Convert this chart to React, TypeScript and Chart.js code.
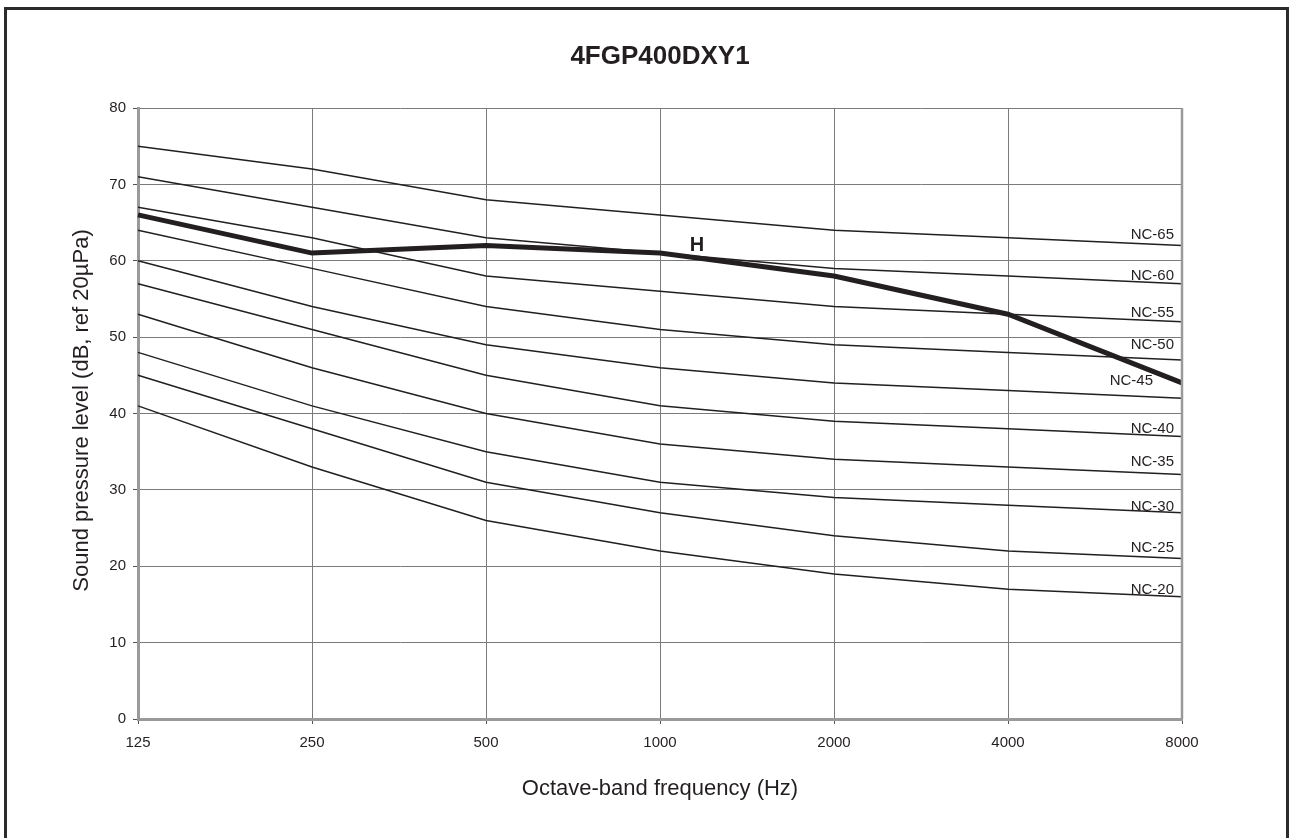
import React, { useEffect, useRef } from "react";
import { Chart, registerables } from "chart.js";

Chart.register(...registerables);

const frequencies = ["125", "250", "500", "1000", "2000", "4000", "8000"];

const ncNames = ["NC-65", "NC-60", "NC-55", "NC-50", "NC-45", "NC-40", "NC-35", "NC-30", "NC-25", "NC-20"];
const nc65 = [75, 72, 68, 66, 64, 63, 62];
const nc60 = [71, 67, 63, 61, 59, 58, 57];
const nc55 = [67, 63, 58, 56, 54, 53, 52];
const nc50 = [64, 59, 54, 51, 49, 48, 47];
const nc45 = [60, 54, 49, 46, 44, 43, 42];
const nc40 = [57, 51, 45, 41, 39, 38, 37];
const nc35 = [53, 46, 40, 36, 34, 33, 32];
const nc30 = [48, 41, 35, 31, 29, 28, 27];
const nc25 = [45, 38, 31, 27, 24, 22, 21];
const nc20 = [41, 33, 26, 22, 19, 17, 16];
const ncCurves = [nc65, nc60, nc55, nc50, nc45, nc40, nc35, nc30, nc25, nc20];

const unitName = "H";
const unitValues = [66, 61, 62, 61, 58, 53, 44];

const chartTitle = "4FGP400DXY1";
const yTitle = "Sound pressure level (dB, ref 20µPa)";
const xTitle = "Octave-band frequency (Hz)";

// label styling (pixel offsets above each curve's end)
const labelLift = [6, 4, 5, 11, 13, 3, 9, 2, 7, 3];
const labelRightInset = [8, 8, 8, 8, 29, 8, 8, 8, 8, 8];

const FONT = "'Liberation Sans', Arial, sans-serif";
const INK = "#231f20";

export default function App() {
  const ref = useRef<HTMLCanvasElement | null>(null);

  useEffect(() => {
    const canvas = ref.current;
    if (!canvas) return;

    const overlay = {
      id: "overlay",
      afterDraw(chart: any) {
        const { ctx, chartArea, scales } = chart;
        const xs = scales.x;
        const ys = scales.y;
        ctx.save();
        // right plot border
        ctx.strokeStyle = "#9a9a9a";
        ctx.lineWidth = 2.5;
        ctx.beginPath();
        ctx.moveTo(chartArea.right, chartArea.top);
        ctx.lineTo(chartArea.right, chartArea.bottom);
        ctx.stroke();

        const cx = (chartArea.left + chartArea.right) / 2;
        // title
        ctx.fillStyle = INK;
        ctx.font = `bold 26px ${FONT}`;
        ctx.textAlign = "center";
        ctx.textBaseline = "middle";
        ctx.fillText(chartTitle, cx, 57);

        // x title
        ctx.font = `22px ${FONT}`;
        ctx.fillText(xTitle, cx, 789);

        // y title
        ctx.save();
        ctx.translate(82, (chartArea.top + chartArea.bottom) / 2 - 3);
        ctx.rotate(-Math.PI / 2);
        ctx.fillText(yTitle, 0, 0);
        ctx.restore();

        // NC labels
        ctx.font = `15px ${FONT}`;
        ctx.textAlign = "right";
        ctx.textBaseline = "alphabetic";
        const last = frequencies.length - 1;
        ncNames.forEach((name, i) => {
          const y = ys.getPixelForValue(ncCurves[i][last]) - labelLift[i];
          ctx.fillText(name, chartArea.right - labelRightInset[i], y);
        });

        // unit label
        ctx.font = `bold 20px ${FONT}`;
        ctx.textAlign = "center";
        ctx.fillText(unitName, xs.getPixelForValue(3) + 37, ys.getPixelForValue(unitValues[3]) - 2);
        ctx.restore();
      },
    };

    const datasets: any[] = [
      {
        label: unitName,
        data: unitValues,
        borderColor: INK,
        borderWidth: 5,
        pointRadius: 0,
        tension: 0,
      },
      ...ncCurves.map((vals, i) => ({
        label: ncNames[i],
        data: vals,
        borderColor: INK,
        borderWidth: 1.5,
        pointRadius: 0,
        tension: 0,
      })),
    ];

    const chart = new Chart(canvas, {
      type: "line",
      data: { labels: frequencies, datasets },
      options: {
        responsive: false,
        animation: false,
        devicePixelRatio: 1,
        layout: { padding: { left: 0, top: 108, right: 108, bottom: 0 } },
        plugins: { legend: { display: false }, tooltip: { enabled: false } },
        scales: {
          x: {
            type: "category",
            offset: false,
            afterFit: (s: any) => {
              s.height = 119;
            },
            grid: { color: "#7a7a7a", lineWidth: 1, tickLength: 5, tickColor: "#555", offset: false },
            border: { color: "#9a9a9a", width: 3 },
            ticks: { color: INK, font: { family: FONT, size: 15 }, padding: 10, maxRotation: 0 },
          },
          y: {
            min: 0,
            max: 80,
            afterFit: (s: any) => {
              s.width = 138;
            },
            grid: { color: "#7a7a7a", lineWidth: 1, tickLength: 5, tickColor: "#555" },
            border: { color: "#9a9a9a", width: 3 },
            ticks: { stepSize: 10, color: INK, font: { family: FONT, size: 15 }, padding: 7 },
          },
        },
      },
      plugins: [overlay],
    });
    return () => chart.destroy();
  }, []);

  return (
    <div>
      <canvas
        ref={ref}
        width={1290}
        height={838}
        style={{ position: "fixed", left: 0, top: 0, width: 1290, height: 838, background: "#fff" }}
      />
      <div
        style={{
          position: "fixed",
          left: 4,
          top: 7,
          width: 1285,
          height: 900,
          border: "3px solid #2b2b2b",
          borderBottom: "none",
          boxSizing: "border-box",
          pointerEvents: "none",
        }}
      />
    </div>
  );
}
